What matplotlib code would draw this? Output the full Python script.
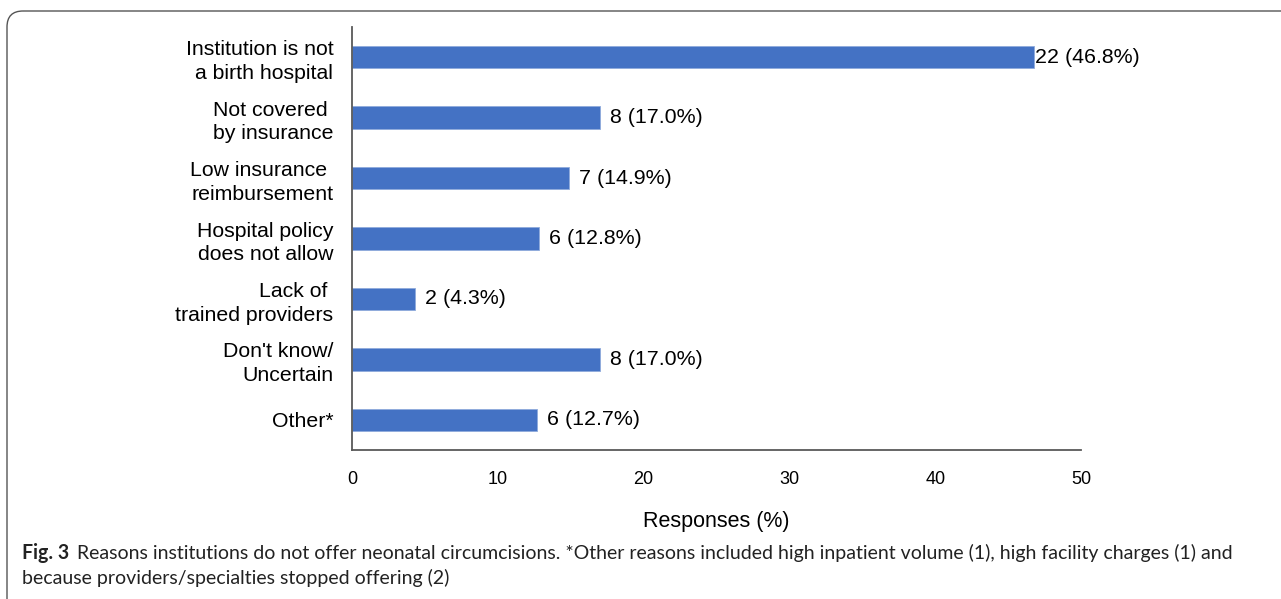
import matplotlib
matplotlib.use('Agg')
import matplotlib.pyplot as plt
from matplotlib.patches import FancyBboxPatch

plt.rcParams['font.family'] = ['Liberation Sans', 'DejaVu Sans']

reasons = ['Institution is not\na birth hospital', 'Not covered \nby insurance',
           'Low insurance \nreimbursement', 'Hospital policy\ndoes not allow',
           'Lack of \ntrained providers', "Don't know/\nUncertain", 'Other*']
counts = [22, 8, 7, 6, 2, 8, 6]
percents = [46.8, 17.0, 14.9, 12.8, 4.3, 17.0, 12.7]
xticks = [0, 10, 20, 30, 40, 50]

W, H = 1281, 599
fig = plt.figure(figsize=(W / 100, H / 100), dpi=100, facecolor='white')

# background layer in pixel units for the rounded panel frame
bg = fig.add_axes([0, 0, 1, 1])
bg.set_xlim(0, W)
bg.set_ylim(H, 0)
bg.axis('off')
bg.add_patch(FancyBboxPatch((7, 11), W + 40, H + 40,
                            boxstyle='round,pad=0,rounding_size=16',
                            fill=False, edgecolor='#555555', linewidth=1.0))

ax = fig.add_axes([352 / W, 1 - 450 / H, (1081 - 352) / W, (450 - 27) / H])
y = list(range(len(reasons)))
ax.barh(y, percents, height=0.37, color='#4472C4', edgecolor='#8FAADC', linewidth=0.6)
for yi, c, p in zip(y, counts, percents):
    ax.text(p + 0.7 if p < 40 else p + 0.05, yi, f'{c} ({p:.1f}%)',
            va='center', ha='left', fontsize=15.4, color='black')

ax.set_ylim(len(reasons) - 0.5, -0.5)
ax.set_xlim(0, 50)
ax.set_yticks(y)
ax.set_yticklabels(reasons, fontsize=15.3, multialignment='right', linespacing=1.32)
ax.set_xticks(xticks)
ax.set_xticklabels([str(t) for t in xticks], fontsize=13)
ax.tick_params(axis='both', length=0)
ax.tick_params(axis='y', pad=13.5)
ax.tick_params(axis='x', pad=15)
for s in ['top', 'right']:
    ax.spines[s].set_visible(False)
for s in ['left', 'bottom']:
    ax.spines[s].set_color('#595959')
    ax.spines[s].set_linewidth(1.3)
ax.set_xlabel('Responses (%)', fontsize=15.5, labelpad=17)

cap = dict(fontsize=14.05, va='center', ha='left', family=['Lato', 'DejaVu Sans'],
           color='#222222')
fig.text(22 / W, 1 - 553 / H, 'Fig. 3', fontweight='bold', **cap)
fig.text(77 / W, 1 - 553 / H,
         'Reasons institutions do not offer neonatal circumcisions. *Other reasons included '
         'high inpatient volume (1), high facility charges (1) and', **cap)
fig.text(22 / W, 1 - 578 / H, 'because providers/specialties stopped offering (2)', **cap)

fig.savefig('out.png', dpi=100)
